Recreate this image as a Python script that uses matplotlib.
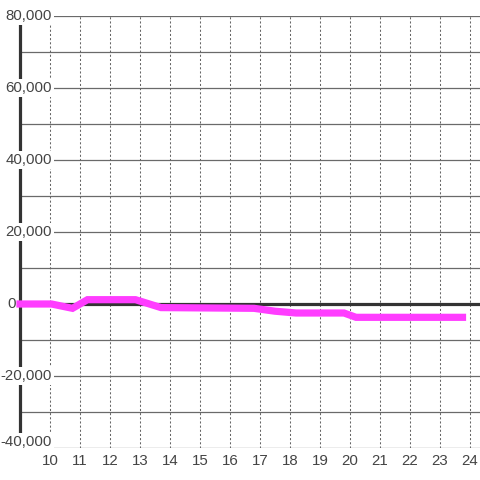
import matplotlib
matplotlib.use("Agg")
import matplotlib.pyplot as plt
import matplotlib.transforms as mtransforms

# Data (hours vs value)
hours = [9.0, 10.05, 10.75, 11.25, 12.85, 13.7, 16.8, 17.5, 18.2, 19.8, 20.2, 23.75]
values = [0, 0, -1200, 1200, 1200, -1000, -1200, -2000, -2500, -2500, -3700, -3700]

x_ticks = list(range(10, 25))
y_ticks = list(range(-40000, 80001, 10000))
y_label_ticks = [-40000, -20000, 0, 20000, 40000, 60000, 80000]
y_labels = ["-40,000", "-20,000", "0", "20,000", "40,000", "60,000", "80,000"]

fig = plt.figure(figsize=(4.8, 4.8), dpi=100, facecolor="white")
ax = fig.add_axes([20/480, 32/480, 460/480, 432/480])
ax.set_facecolor("white")
ax.set_xlim(9.0, 24.3333)
ax.set_ylim(-40000, 80000)
for s in ax.spines.values():
    s.set_visible(False)
ax.set_xticks([])
ax.set_yticks([])

# horizontal grid
for v in y_ticks:
    if v == 0:
        continue
    ax.axhline(v, color="#6a6a6a", lw=0.9, zorder=1)
# vertical dotted grid
for t in x_ticks:
    ax.plot([t, t], [-40000, 80000], color="#666666", lw=0.75,
            dashes=(2, 2), zorder=1)
# zero line
ax.axhline(0, color="#333333", lw=2.3, zorder=2)
# left axis line
ax.plot([9.0, 9.0], [-40000, 80000], color="#333333", lw=2.3, zorder=2,
        solid_capstyle="butt", clip_on=False)

# data line
ax.plot(hours, values, color="#ff3dff", lw=5.2, solid_capstyle="projecting",
        solid_joinstyle="miter", zorder=6, clip_on=False)

font = "Liberation Sans"
ylab_trans = mtransforms.blended_transform_factory(
    mtransforms.Affine2D().scale(1/480, 1) + fig.transFigure, ax.transData)
for v, lab in zip(y_label_ticks, y_labels):
    tr = ylab_trans
    if v == y_label_ticks[0]:
        tr = ylab_trans + mtransforms.ScaledTranslation(0, 6/100, fig.dpi_scale_trans)
    if v == 0:
        ax.text(7, v, lab, transform=tr, ha="left", va="center",
                fontsize=10.8, family=font, color="#444444", zorder=5,
                clip_on=False)
    else:
        ax.text(52, v, lab, transform=tr, ha="right", va="center",
                fontsize=10.8, family=font, color="#444444", zorder=5,
                clip_on=False,
                bbox=dict(boxstyle="square,pad=0.12", fc="white", ec="none"))

# x labels
xlab_trans = ax.transData + mtransforms.ScaledTranslation(0, -6/100, fig.dpi_scale_trans)
for t in x_ticks:
    ax.text(t, -40000, str(t), transform=xlab_trans, ha="center",
            va="top", fontsize=10.8, family=font, color="#444444",
            clip_on=False)

fig.savefig("out.png", dpi=100, facecolor="white")
